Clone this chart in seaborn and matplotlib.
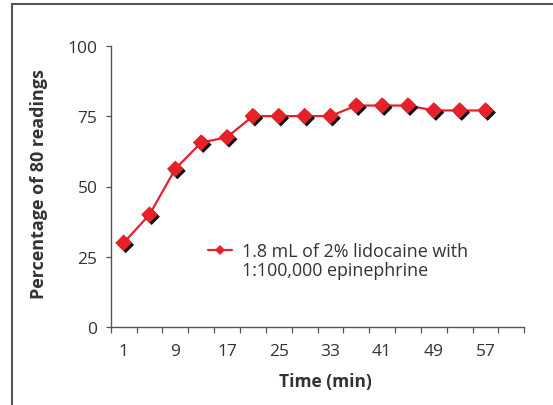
import matplotlib
matplotlib.use("Agg")
import matplotlib.pyplot as plt
import matplotlib.patheffects as pe
from matplotlib.ticker import FixedLocator, NullFormatter
from matplotlib.lines import Line2D
from matplotlib.patches import Rectangle
import seaborn as sns
import pandas as pd

# ---- data ----
time_min = [1, 5, 9, 13, 17, 21, 25, 29, 33, 37, 41, 45, 49, 53, 57]
percent = [30, 40, 56.25, 65.6, 67.5, 75, 75, 75, 75, 78.75, 78.75, 78.75, 77, 77, 77]
x_tick_labels = [1, 9, 17, 25, 33, 41, 49, 57]
y_ticks = [0, 25, 50, 75, 100]
series_lines = ["1.8 mL of 2% lidocaine with", "1:100,000 epinephrine"]

df = pd.DataFrame({"Time (min)": time_min, "Percentage": percent})

sns.set_theme(style="white")
plt.rcParams["font.family"] = ["Open Sans", "DejaVu Sans"]

W, H = 553, 406
fig = plt.figure(figsize=(W / 100, H / 100), dpi=100)
ax = fig.add_axes([110.7 / W, 1 - 328.3 / H, (524.3 - 110.7) / W, (328.3 - 46.7) / H])

red = "#e8202a"
txt = "#333333"
axcol = "#555555"

sns.lineplot(data=df, x="Time (min)", y="Percentage", ax=ax, color=red, lw=1.6, legend=False)
sc = ax.scatter(df["Time (min)"], df["Percentage"], marker="D", s=72, color=red,
                linewidths=0, zorder=3)
sc.set_path_effects([pe.SimplePatchShadow(offset=(1.5, -1.5), shadow_rgbFace="black", alpha=0.95),
                     pe.Normal()])

# legend: handle on the first line, second line continues the label
h1 = Line2D([], [], color=red, lw=1.6, marker="D", markersize=5, markeredgewidth=0)
h2 = Line2D([], [], color="none", lw=0)
leg = ax.legend([h1, h2], series_lines, loc="upper left",
                bbox_to_anchor=((208 - 110.7) / 413.6, (328.3 - 243) / 281.6),
                frameon=False, fontsize=12.9, handlelength=1.35, handletextpad=0.55,
                labelspacing=0.05, borderpad=0, borderaxespad=0)
for t in leg.get_texts():
    t.set_color(txt)

ax.set_xlim(-1, 63)
ax.set_ylim(0, 100)
ax.set_xticks(x_tick_labels)
ax.set_xticklabels([str(v) for v in x_tick_labels])
ax.xaxis.set_minor_locator(FixedLocator(list(range(-1, 64, 4))))
ax.xaxis.set_minor_formatter(NullFormatter())
ax.tick_params(axis="x", which="major", length=0, pad=11, labelsize=12.5, labelcolor=txt)
ax.tick_params(axis="x", which="minor", length=4, width=0.9, color=axcol, direction="out", bottom=True)
ax.set_yticks(y_ticks)
ax.tick_params(axis="y", which="major", length=3.5, width=0.9, color=axcol, direction="out",
               left=True, labelsize=12.5, labelcolor=txt, pad=6)

for s in ["top", "right"]:
    ax.spines[s].set_visible(False)
for s in ["left", "bottom"]:
    ax.spines[s].set_color(axcol)
    ax.spines[s].set_linewidth(1.0)

ax.set_xlabel("Time (min)", fontsize=12.5, fontweight="bold", color=txt)
ax.set_ylabel("Percentage of 80 readings", fontsize=13, fontweight="bold", color=txt)
ax.xaxis.set_label_coords((325 - 110.7) / (524.3 - 110.7), -(373 - 328.3) / (328.3 - 46.7))
ax.yaxis.set_label_coords(-(110.7 - 48) / (524.3 - 110.7), (328.3 - 184) / (328.3 - 46.7))

# outer frame (left and top edges visible, others beyond the picture)
fig.patches.append(Rectangle((12 / W, -0.1), 1.2, 1 - 4.7 / H + 0.1, transform=fig.transFigure,
                             fill=False, edgecolor="#555555", lw=1.5))

fig.savefig("out.png", dpi=100)
